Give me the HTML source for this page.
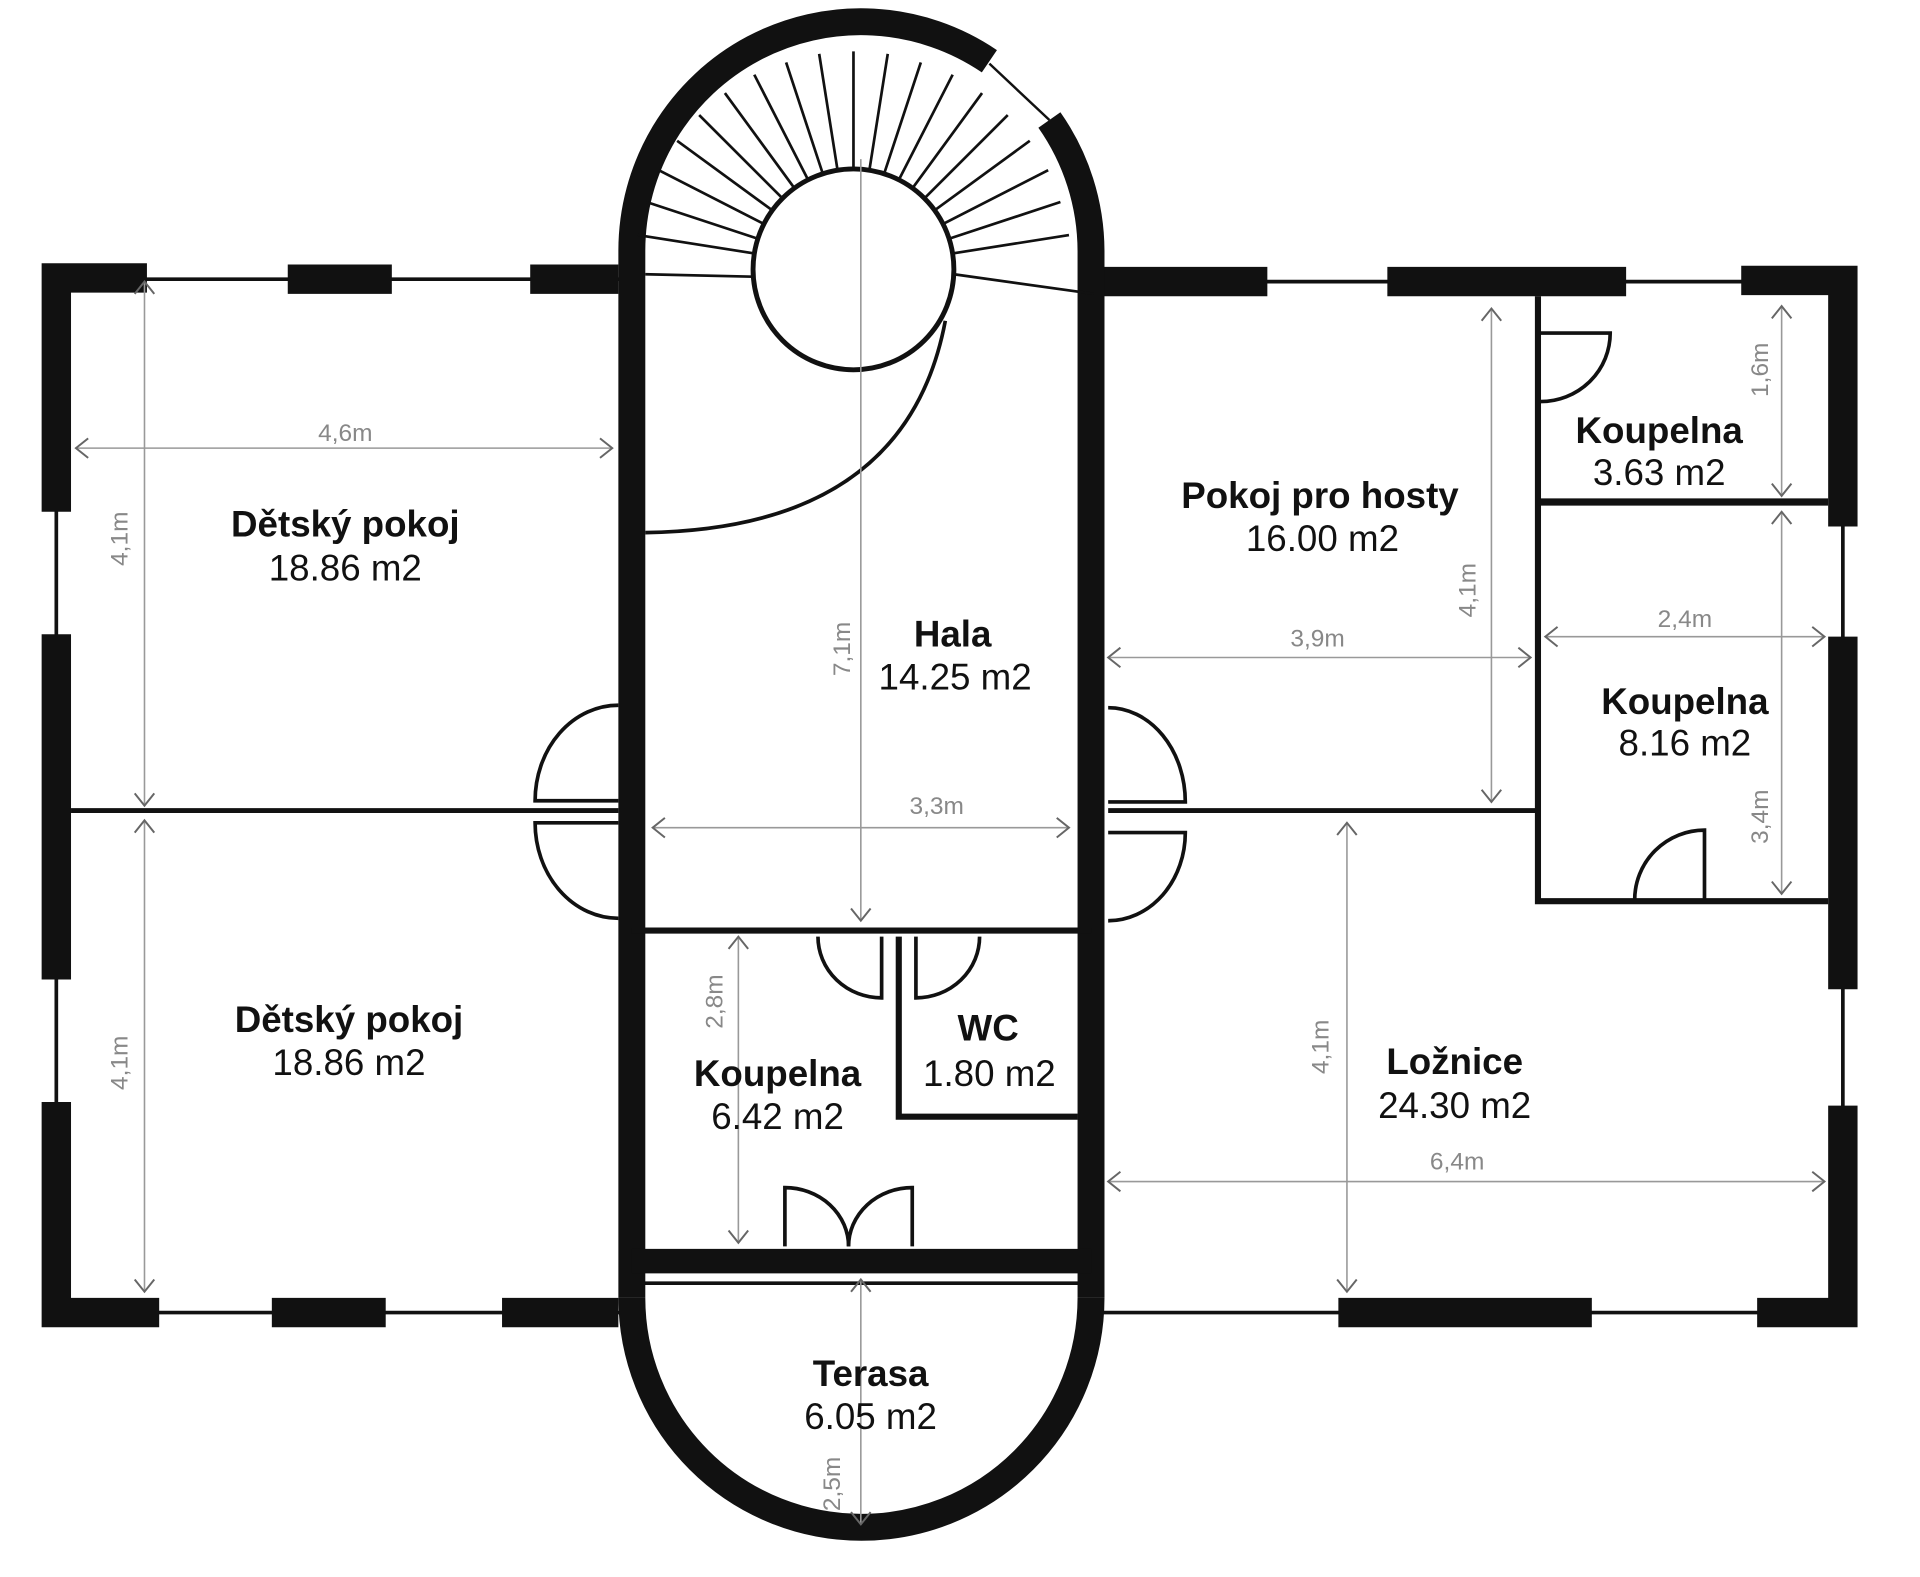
<!DOCTYPE html>
<html><head><meta charset="utf-8"><style>html,body{margin:0;padding:0;background:#fff}svg{display:block}
text{font-family:"Liberation Sans",sans-serif}
.b{font-weight:bold;font-size:30px;fill:#111;text-anchor:middle}
.n{font-size:30px;fill:#111;text-anchor:middle}
.d{font-size:20px;fill:#888;text-anchor:middle}
.dim{stroke:#999;stroke-width:1.3;fill:none}
.ar{stroke:#666;stroke-width:1.6;fill:none}
</style></head><body>
<svg width="1920" height="1577" viewBox="0 0 1568 1288" preserveAspectRatio="none" xmlns="http://www.w3.org/2000/svg">
<rect width="1568" height="1288" fill="#fff"/>
<g stroke="#111" fill="none">
<line x1="45" y1="228" x2="516" y2="228" stroke-width="3"/>
<line x1="46" y1="220" x2="46" y2="1072" stroke-width="3"/>
<line x1="45" y1="1072" x2="516" y2="1072" stroke-width="3"/>
<line x1="891" y1="230" x2="1500" y2="230" stroke-width="3"/>
<line x1="1505" y1="225" x2="1505" y2="1080" stroke-width="3"/>
<line x1="891" y1="1072" x2="1505" y2="1072" stroke-width="3"/>
<line x1="516" y1="1048" x2="891" y2="1048" stroke-width="3"/>
<g stroke-width="24">
<path d="M120,227 H46 V418"/>
<line x1="235" y1="228" x2="320" y2="228"/>
<line x1="433" y1="228" x2="505" y2="228"/>
<line x1="46" y1="518" x2="46" y2="800"/>
<path d="M46,900 V1072 H130"/>
<line x1="222" y1="1072" x2="315" y2="1072"/>
<line x1="410" y1="1072" x2="505" y2="1072"/>
<line x1="891" y1="230" x2="1035" y2="230"/>
<line x1="1133" y1="230" x2="1328" y2="230"/>
<path d="M1422,229 H1505 V430"/>
<line x1="1505" y1="520" x2="1505" y2="808"/>
<path d="M1505,903 V1072 H1435"/>
<line x1="1093" y1="1072" x2="1300" y2="1072"/>
</g>
<path d="M516,1060 V205 A187,187 0 0 1 808,50" stroke-width="22"/>
<path d="M857,98 A187,187 0 0 1 891,205 V1060" stroke-width="22"/>
<path d="M516,1060 A187,187 0 0 0 891,1060" stroke-width="22"/>
<line x1="516" y1="1030" x2="891" y2="1030" stroke-width="20"/>
<line x1="808" y1="52" x2="857" y2="98" stroke-width="2"/>
<line x1="58" y1="662" x2="505" y2="662" stroke-width="4"/>
<line x1="905" y1="662" x2="1256" y2="662" stroke-width="4"/>
<line x1="516" y1="760" x2="891" y2="760" stroke-width="5"/>
<path d="M734,765 V912 H880" stroke-width="5"/>
<path d="M1256,242 V736 H1493" stroke-width="5"/>
<line x1="1256" y1="410" x2="1493" y2="410" stroke-width="6"/>
<circle cx="697" cy="220" r="82" stroke-width="4"/>
<g stroke-width="2.2">
<line x1="616" y1="207" x2="521" y2="192"/><line x1="619" y1="195" x2="528" y2="165"/>
<line x1="624" y1="183" x2="538" y2="139"/><line x1="631" y1="172" x2="553" y2="115"/>
<line x1="639" y1="162" x2="571" y2="94"/><line x1="649" y1="154" x2="592" y2="76"/>
<line x1="660" y1="147" x2="616" y2="61"/><line x1="672" y1="142" x2="642" y2="51"/>
<line x1="684" y1="139" x2="669" y2="44"/><line x1="697" y1="138" x2="697" y2="42"/>
<line x1="710" y1="139" x2="725" y2="44"/><line x1="722" y1="142" x2="752" y2="51"/>
<line x1="734" y1="147" x2="778" y2="61"/><line x1="745" y1="154" x2="802" y2="76"/>
<line x1="755" y1="162" x2="823" y2="94"/><line x1="763" y1="172" x2="841" y2="115"/>
<line x1="770" y1="183" x2="856" y2="139"/><line x1="775" y1="195" x2="866" y2="165"/>
<line x1="778" y1="207" x2="873" y2="192"/><line x1="779" y1="224" x2="893" y2="240"/>
<line x1="527" y1="224" x2="615" y2="226"/>
</g>
<path d="M772,262 Q740,432 527,435" stroke-width="3"/>
<g stroke-width="3">
<path d="M505,576 A68,78 0 0 0 437,654 H505"/>
<path d="M505,750 A68,78 0 0 1 437,672 H505"/>
<path d="M905,578 A63,77 0 0 1 968,655 H905"/>
<path d="M905,752 A63,72 0 0 0 968,680 H905"/>
<path d="M668,765 A52,50 0 0 0 720,815 V765"/>
<path d="M748,765 V815 A52,50 0 0 0 800,765"/>
<path d="M1258,328 A57,56 0 0 0 1315,272 H1258"/>
<path d="M1335,735 A57,57 0 0 1 1392,678 V735"/>
<path d="M641,1018 V970 A52,48 0 0 1 693,1018"/>
<path d="M745,1018 V970 A52,48 0 0 0 693,1018"/>
</g>
</g>
<g>
<line class="dim" x1="62" y1="366" x2="500" y2="366"/><path class="ar" d="M72,358 L62,366 L72,374 M490,358 L500,366 L490,374"/>
<line class="dim" x1="118" y1="230" x2="118" y2="658"/><path class="ar" d="M110,240 L118,230 L126,240 M110,648 L118,658 L126,648"/>
<line class="dim" x1="118" y1="670" x2="118" y2="1055"/><path class="ar" d="M110,680 L118,670 L126,680 M110,1045 L118,1055 L126,1045"/>
<line class="dim" x1="703" y1="130" x2="703" y2="752"/><path class="ar" d="M695,742 L703,752 L711,742"/>
<line class="dim" x1="533" y1="676" x2="873" y2="676"/><path class="ar" d="M543,668 L533,676 L543,684 M863,668 L873,676 L863,684"/>
<line class="dim" x1="603" y1="765" x2="603" y2="1015"/><path class="ar" d="M595,775 L603,765 L611,775 M595,1005 L603,1015 L611,1005"/>
<line class="dim" x1="703" y1="1045" x2="703" y2="1245"/><path class="ar" d="M695,1055 L703,1045 L711,1055 M695,1235 L703,1245 L711,1235"/>
<line class="dim" x1="905" y1="537" x2="1250" y2="537"/><path class="ar" d="M915,529 L905,537 L915,545 M1240,529 L1250,537 L1240,545"/>
<line class="dim" x1="1218" y1="252" x2="1218" y2="655"/><path class="ar" d="M1210,262 L1218,252 L1226,262 M1210,645 L1218,655 L1226,645"/>
<line class="dim" x1="1455" y1="250" x2="1455" y2="405"/><path class="ar" d="M1447,260 L1455,250 L1463,260 M1447,395 L1455,405 L1463,395"/>
<line class="dim" x1="1455" y1="418" x2="1455" y2="730"/><path class="ar" d="M1447,428 L1455,418 L1463,428 M1447,720 L1455,730 L1463,720"/>
<line class="dim" x1="1262" y1="520" x2="1490" y2="520"/><path class="ar" d="M1272,512 L1262,520 L1272,528 M1480,512 L1490,520 L1480,528"/>
<line class="dim" x1="1100" y1="672" x2="1100" y2="1055"/><path class="ar" d="M1092,682 L1100,672 L1108,682 M1092,1045 L1100,1055 L1108,1045"/>
<line class="dim" x1="905" y1="965" x2="1490" y2="965"/><path class="ar" d="M915,957 L905,965 L915,973 M1480,957 L1490,965 L1480,973"/>
</g>
<g>
<text x="282" y="360" class="d">4,6m</text>
<text x="765" y="665" class="d">3,3m</text>
<text x="1076" y="528" class="d">3,9m</text>
<text x="1376" y="512" class="d">2,4m</text>
<text x="1190" y="955" class="d">6,4m</text>
<text class="d" transform="translate(104,440) rotate(-90)">4,1m</text>
<text class="d" transform="translate(104,868) rotate(-90)">4,1m</text>
<text class="d" transform="translate(694,530) rotate(-90)">7,1m</text>
<text class="d" transform="translate(590,818) rotate(-90)">2,8m</text>
<text class="d" transform="translate(686,1212) rotate(-90)">2,5m</text>
<text class="d" transform="translate(1205,482) rotate(-90)">4,1m</text>
<text class="d" transform="translate(1444,302) rotate(-90)">1,6m</text>
<text class="d" transform="translate(1444,667) rotate(-90)">3,4m</text>
<text class="d" transform="translate(1085,855) rotate(-90)">4,1m</text>
</g>
<text x="282" y="438" class="b">Dětský pokoj</text><text x="282" y="474" class="n">18.86 m2</text>
<text x="285" y="843" class="b">Dětský pokoj</text><text x="285" y="878" class="n">18.86 m2</text>
<text x="778" y="528" class="b">Hala</text><text x="780" y="563" class="n">14.25 m2</text>
<text x="1078" y="415" class="b">Pokoj pro hosty</text><text x="1080" y="450" class="n">16.00 m2</text>
<text x="1355" y="362" class="b">Koupelna</text><text x="1355" y="396" class="n">3.63 m2</text>
<text x="1376" y="583" class="b">Koupelna</text><text x="1376" y="617" class="n">8.16 m2</text>
<text x="807" y="850" class="b">WC</text><text x="808" y="887" class="n">1.80 m2</text>
<text x="635" y="887" class="b">Koupelna</text><text x="635" y="922" class="n">6.42 m2</text>
<text x="1188" y="877" class="b">Ložnice</text><text x="1188" y="913" class="n">24.30 m2</text>
<text x="711" y="1132" class="b">Terasa</text><text x="711" y="1167" class="n">6.05 m2</text>
</svg>
</body></html>
